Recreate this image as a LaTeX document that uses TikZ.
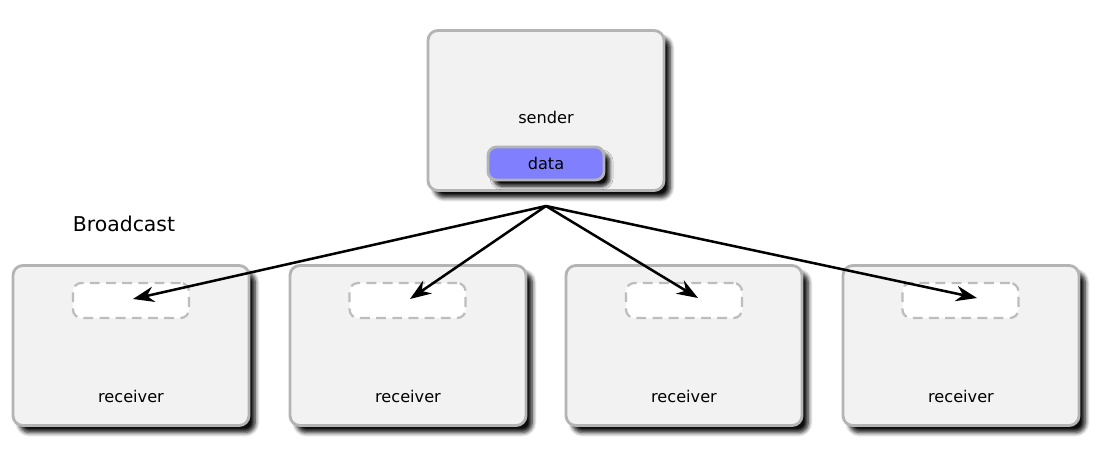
\documentclass[tikz,border=0pt]{standalone}
\usepackage{fontspec}
\setmainfont{DejaVu Sans}
\usetikzlibrary{arrows.meta, positioning, shadows.blur}
\tikzset{>={Stealth[length=15pt,width=11pt]}}
\definecolor{boxgray}{HTML}{B4B4B4}
\definecolor{boxfill}{HTML}{F2F2F2}
\definecolor{datablue}{HTML}{8080FF}
\definecolor{slotgray}{HTML}{BDBDBD}
\tikzset{
  box/.style={draw=boxgray, line width=2pt, fill=boxfill, rounded corners=7pt,
    minimum width=5.9cm, minimum height=4cm,
    blur shadow={shadow xshift=4.5pt, shadow yshift=-5pt, shadow opacity=95,
      shadow blur radius=3pt, shadow blur steps=6}},
  databox/.style={draw=boxgray, line width=2pt, fill=datablue, rounded corners=6pt,
    minimum width=2.9cm, minimum height=0.825cm,
    blur shadow={shadow xshift=4pt, shadow yshift=-4.5pt, shadow opacity=95,
      shadow blur radius=2.5pt, shadow blur steps=6}},
  slot/.style={draw=slotgray, line width=1.6pt, dash pattern=on 7pt off 4.5pt, fill=white,
    rounded corners=6pt, minimum width=2.9cm, minimum height=0.875cm},
  lbl/.style={font=\fontsize{11.5}{13}\selectfont}
}

\begin{document}
\begin{tikzpicture}
  \useasboundingbox (0,0) rectangle (27.825,-11.35);

  % sender
  \node[box] (sender) at (13.65,-2.7625) {};
  \node[databox, lbl] (data) at (13.65,-4.0875) {data};
  \node[lbl] (sendertext) at (13.65,-2.925) {sender};
  \coordinate (src) at (13.65,-5.15);

  \node[font=\fontsize{14.5}{16}\selectfont] (title) at (3.1,-5.6) {Broadcast};

  % receivers
  \node[box] (recv1) at (3.275,-8.6375) {};
  \node[box] (recv2) at (10.2,-8.6375) {};
  \node[box] (recv3) at (17.1,-8.6375) {};
  \node[box] (recv4) at (24.025,-8.6375) {};
  \node[lbl] at (3.275,-9.9) {receiver};
  \node[lbl] at (10.2,-9.9) {receiver};
  \node[lbl] at (17.1,-9.9) {receiver};
  \node[lbl] at (24.025,-9.9) {receiver};
  \node[slot] (slot1) at (3.275,-7.5125) {};
  \node[slot] (slot2) at (10.19,-7.5125) {};
  \node[slot] (slot3) at (17.1,-7.5125) {};
  \node[slot] (slot4) at (24.01,-7.5125) {};

  % arrow tips
  \coordinate (tip1) at (3.325,-7.475);
  \coordinate (tip2) at (10.25,-7.475);
  \coordinate (tip3) at (17.45,-7.45);
  \coordinate (tip4) at (24.425,-7.45);

  \draw[line width=1.8pt,->] (src) -- (tip1);
  \draw[line width=1.8pt,->] (src) -- (tip2);
  \draw[line width=1.8pt,->] (src) -- (tip3);
  \draw[line width=1.8pt,->] (src) -- (tip4);
\end{tikzpicture}
\end{document}
